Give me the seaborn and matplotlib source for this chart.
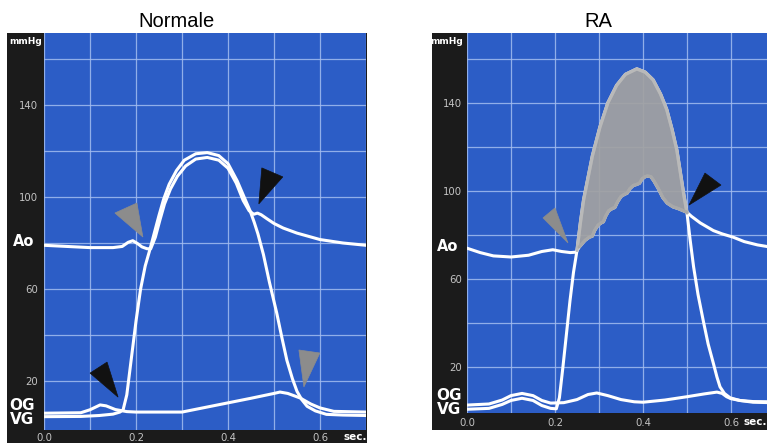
import numpy as np
import pandas as pd
import matplotlib
matplotlib.use("Agg")
import matplotlib.pyplot as plt
import matplotlib.transforms as mtransforms
from matplotlib.patches import Polygon
import seaborn as sns

# ---- Normale : temps (s) / pression (mmHg)
t_ao_n = [0.0, 0.05, 0.10, 0.15, 0.17, 0.183, 0.193, 0.203, 0.213, 0.224, 0.232,
          0.242, 0.252, 0.262, 0.275, 0.29, 0.308, 0.33, 0.355, 0.38, 0.40, 0.418,
          0.433, 0.446, 0.456, 0.464, 0.472, 0.485, 0.50, 0.52, 0.55, 0.60, 0.65, 0.70]
p_ao_n = [79, 78.5, 78, 78, 78.5, 80.3, 81, 79.8, 78.3, 77.5, 77.5,
          82.5, 90, 97, 103.5, 109, 113.5, 116.5, 117.2, 116, 112.5, 106,
          98.5, 94, 92.5, 93, 92.3, 90.5, 88.5, 86.5, 84.3, 81.5, 80, 79]

t_vg_n = [0.0, 0.08, 0.12, 0.15, 0.165, 0.172, 0.18, 0.19, 0.20, 0.21, 0.22, 0.23,
          0.24, 0.25, 0.26, 0.272, 0.288, 0.305, 0.33, 0.355, 0.38, 0.40, 0.42,
          0.435, 0.448, 0.457, 0.465, 0.477, 0.49, 0.506, 0.517, 0.528, 0.54,
          0.55, 0.56, 0.572, 0.59, 0.614, 0.65, 0.70]
p_vg_n = [4.5, 4.6, 5, 5.6, 6.5, 7.5, 14, 30, 46, 60, 70, 77,
          84.5, 92, 99, 105.5, 111.5, 116, 118.8, 119.3, 118, 114.5, 107,
          100, 94, 89, 84, 75, 63, 49.5, 39, 29, 21,
          15.5, 12, 9, 7, 5.5, 5.2, 5.0]

t_og_n = [0.0, 0.08, 0.10, 0.122, 0.135, 0.155, 0.18, 0.20, 0.30, 0.35, 0.40,
          0.45, 0.50, 0.513, 0.53, 0.557, 0.58, 0.60, 0.63, 0.70]
p_og_n = [6, 6.2, 7.5, 9.6, 9.2, 7.6, 6.7, 6.5, 6.5, 8.5, 10.5,
          12.5, 14.6, 15.2, 14.6, 12.6, 10, 8.3, 6.8, 6.5]

# ---- RA : temps (s) / pression (mmHg)
t_ao_r = [0.0, 0.03, 0.06, 0.10, 0.14, 0.17, 0.195, 0.215, 0.235, 0.248,
          0.255, 0.268, 0.278, 0.285, 0.29, 0.298, 0.305, 0.31, 0.315, 0.322,
          0.33, 0.336, 0.342, 0.35, 0.358, 0.364, 0.37, 0.378, 0.386, 0.392,
          0.398, 0.405, 0.41, 0.418, 0.425, 0.435, 0.445, 0.455, 0.468, 0.48,
          0.492, 0.50, 0.51, 0.53, 0.56, 0.58, 0.605, 0.63, 0.66, 0.69, 0.76]
p_ao_r = [74, 72, 70.5, 70, 70.8, 72.5, 73.3, 72.5, 72, 72.2,
          74.5, 77.5, 79, 79.5, 82, 84.5, 85.5, 86, 88.5, 91,
          92, 92.5, 95, 97.5, 98.5, 99, 101, 102.5, 103, 103.5,
          105.5, 106.5, 106.8, 106.5, 104.5, 101, 97, 94.5, 92.8, 92,
          91, 90.3, 88.5, 85.5, 82, 80.5, 79, 77, 75.5, 74.5, 72]

t_vg_r = [0.0, 0.05, 0.08, 0.10, 0.125, 0.15, 0.17, 0.19, 0.203, 0.21, 0.218,
          0.226, 0.234, 0.242, 0.25, 0.258, 0.265, 0.272, 0.285, 0.302, 0.32,
          0.34, 0.36, 0.386, 0.405, 0.423, 0.44, 0.454, 0.466, 0.477, 0.486,
          0.493, 0.50, 0.507, 0.515, 0.525, 0.537, 0.548, 0.56, 0.568, 0.575,
          0.585, 0.598, 0.62, 0.65, 0.69, 0.76]
p_vg_r = [0.8, 1.2, 3, 4.8, 5.8, 4.8, 2.5, 1.2, 1.0, 6, 20,
          35, 50, 63, 73, 86, 96, 103, 116, 129, 140,
          148, 153, 155.5, 154, 150.5, 144, 137, 128, 118.5, 107,
          98, 90, 78, 65.5, 53, 41, 30.5, 21.6, 15.5, 11,
          8, 6, 4.8, 4, 3.8, 3.7]

t_og_r = [0.0, 0.05, 0.08, 0.10, 0.125, 0.15, 0.17, 0.19, 0.22, 0.25, 0.275,
          0.295, 0.32, 0.35, 0.38, 0.40, 0.45, 0.50, 0.54, 0.568, 0.58, 0.59,
          0.60, 0.62, 0.65, 0.69, 0.76]
p_og_r = [2.7, 3.2, 5, 7, 8, 7, 4.8, 3.6, 3.8, 5.2, 7.5,
          8.2, 7, 5.2, 4.2, 4, 5, 6.5, 7.8, 8.6, 8, 6.5,
          5.6, 4.8, 4.3, 4.2, 4.2]

# flèches (pointe en temps / pression)
arr_n_t = [0.215, 0.467, 0.161, 0.565]
arr_n_p = [82.6, 97, 13, 17.4]
arr_n_col = ["gray", "black", "black", "gray"]
arr_r_t = [0.2295, 0.5045]
arr_r_p = [76.4, 93.6]
arr_r_col = ["gray", "black"]

W, H = 767, 446
BLUE = "#2c5dc6"
DARK = "#1b1b1b"
GRID = "#a3bdf0"
TICK = "#c4c4c4"
ARROW = {"gray": "#8c8c8c", "black": "#111111"}

plt.rcParams["font.family"] = ["DejaVu Sans"]
fig = plt.figure(figsize=(W / 100, H / 100), dpi=100)


def box(x0, y0, x1, y1):
    # pixel box -> figure fraction [left, bottom, width, height]
    return [x0 / W, 1 - y1 / H, (x1 - x0) / W, (y1 - y0) / H]


def frame(rect):
    a = fig.add_axes(box(*rect))
    a.set_facecolor(DARK)
    a.set_xticks([])
    a.set_yticks([])
    for s in a.spines.values():
        s.set_visible(False)
    return a


def panel(rect, xlim, ylim, xpad, ypad):
    ax = fig.add_axes(box(*rect))
    ax.set_facecolor(BLUE)
    ax.set_xlim(*xlim)
    ax.set_ylim(*ylim)
    ax.set_xticks([0.0, 0.2, 0.4, 0.6])
    ax.set_xticks([0.1, 0.3, 0.5, 0.7], minor=True)
    ax.set_xticklabels(["0.0", "0.2", "0.4", "0.6"])
    ax.set_yticks([20, 60, 100, 140])
    ax.set_yticks([40, 80, 120, 160], minor=True)
    ax.grid(True, which="both", color=GRID, lw=0.9, alpha=0.85, zorder=1)
    ax.set_axisbelow(True)
    ax.tick_params(which="both", length=0, colors=TICK, labelsize=7.3)
    ax.tick_params(axis="x", pad=xpad)
    ax.tick_params(axis="y", pad=ypad)
    for s in ax.spines.values():
        s.set_visible(False)
    ax.set_xlabel("")
    ax.set_ylabel("")
    return ax


def curve(ax, t, p, **kw):
    df = pd.DataFrame({"t": t, "p": p})
    sns.lineplot(data=df, x="t", y="p", ax=ax, estimator=None, sort=False,
                 color=kw.get("color", "white"), linewidth=kw.get("lw", 2.2),
                 zorder=kw.get("zorder", 3), solid_capstyle="round")
    ax.set_xlabel("")
    ax.set_ylabel("")


def arrows(ax, ts, ps, cols, shapes):
    for t, p, c, sh in zip(ts, ps, cols, shapes):
        tr = (mtransforms.Affine2D().scale(1 / 100) + fig.dpi_scale_trans
              + mtransforms.ScaledTranslation(t, p, ax.transData))
        verts = [(0, 0)] + list(sh)
        ax.add_patch(Polygon(verts, closed=True, transform=tr, facecolor=ARROW[c],
                             edgecolor=ARROW[c], lw=0.5, zorder=6, clip_on=False))


# ---------------- Normale ----------------
frame((7, 33, 367, 443))
axn = panel((44, 33, 366, 430), (0, 0.7), (-1.3, 171.3), 2.5, 4.5)
curve(axn, t_og_n, p_og_n)
curve(axn, t_vg_n, p_vg_n)
curve(axn, t_ao_n, p_ao_n)
arrows(axn, arr_n_t, arr_n_p, arr_n_col,
       [[(-28, 24), (-6, 34)], [(3, 36), (24, 27)],
        [(-28, 24), (-11, 35)], [(-5, 37), (16, 34)]])

# ---------------- RA ----------------
frame((432, 33, 800, 430))
axr = panel((467, 33, 800, 413), (0, 333 / 440), (-0.9, 171.8), 3.5, 3.5)
curve(axr, t_og_r, p_og_r)
curve(axr, t_vg_r, p_vg_r)
curve(axr, t_ao_r, p_ao_r)

# gradient VG / Ao pendant l'éjection
tv, pv = np.array(t_vg_r), np.array(p_vg_r)
ta, pa = np.array(t_ao_r), np.array(p_ao_r)
mv = (tv >= 0.25) & (tv <= 0.5)
ma = (ta >= 0.25) & (ta <= 0.5)
axr.fill(np.concatenate([tv[mv], ta[ma][::-1]]), np.concatenate([pv[mv], pa[ma][::-1]]),
         color="#a2a2a2", alpha=0.93, lw=0, zorder=4)
axr.plot(tv[mv], pv[mv], color="#b9b9b9", lw=2.4, zorder=5, solid_capstyle="round")
axr.plot(ta[ma], pa[ma], color="#a9a9a9", lw=2.4, zorder=5, solid_capstyle="round")
arrows(axr, arr_r_t, arr_r_p, arr_r_col,
       [[(-25, 25), (-13, 35)], [(16, 32), (32, 20)]])

# ---------------- labels ----------------
title_font = ["Liberation Sans", "DejaVu Sans"]
fig.text(177 / W, 1 - 27 / H, "Normale", ha="center", va="baseline", fontsize=14.5,
         family=title_font)
fig.text(598 / W, 1 - 27 / H, "RA", ha="center", va="baseline", fontsize=14.5,
         family=title_font)

lab = dict(color="white", fontweight="bold", va="center")
fig.text(26 / W, 1 - 42 / H, "mmHg", ha="center", fontsize=6.5, **lab)
fig.text(24 / W, 1 - 241 / H, "Ao", ha="center", fontsize=10.5, **lab)
fig.text(22 / W, 1 - 405 / H, "OG", ha="center", fontsize=11, **lab)
fig.text(22 / W, 1 - 420 / H, "VG", ha="center", fontsize=11, **lab)
fig.text(343 / W, 1 - 437 / H, "sec.", ha="left", fontsize=7.5, **lab)

fig.text(447 / W, 1 - 42 / H, "mmHg", ha="center", fontsize=6.5, **lab)
fig.text(448 / W, 1 - 246 / H, "Ao", ha="center", fontsize=10.5, **lab)
fig.text(449 / W, 1 - 395 / H, "OG", ha="center", fontsize=11, **lab)
fig.text(449 / W, 1 - 409 / H, "VG", ha="center", fontsize=11, **lab)
fig.text(744 / W, 1 - 422 / H, "sec.", ha="left", fontsize=7.5, **lab)

fig.savefig("out.png", dpi=100, facecolor="white")
